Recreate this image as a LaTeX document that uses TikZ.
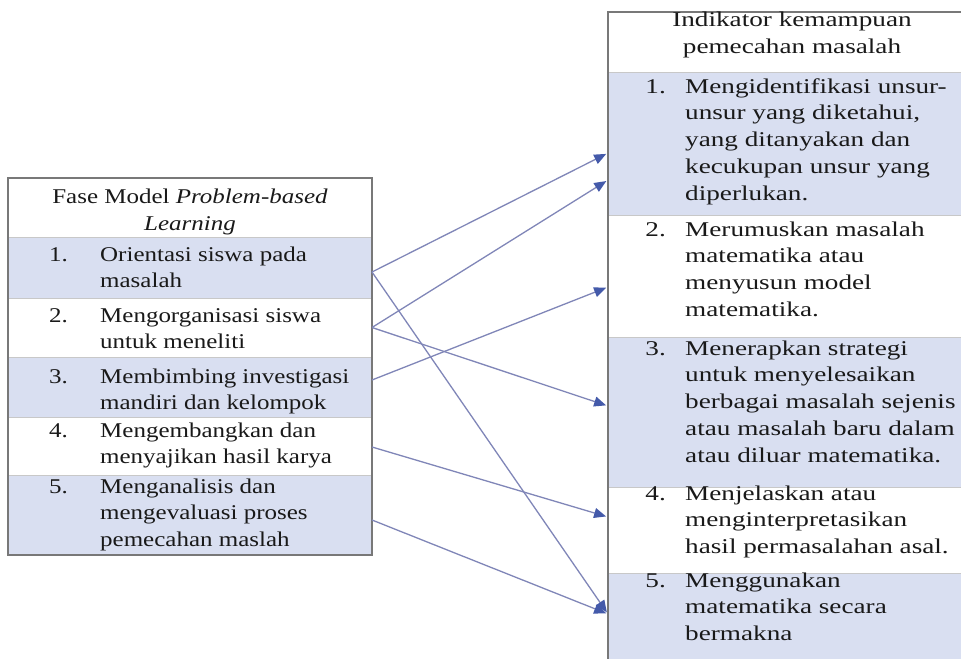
\documentclass[tikz,border=0pt]{standalone}
\usepackage{fontspec}
\setmainfont{Liberation Serif}
\newfontfamily\lfont[FakeStretch=1.19]{Liberation Serif}
\newfontfamily\rfont[FakeStretch=1.295]{Liberation Serif}
\usetikzlibrary{arrows.meta}
\definecolor{rowblue}{RGB}{217,223,241}
\definecolor{outline}{RGB}{120,120,120}
\definecolor{sepline}{RGB}{200,200,200}
\definecolor{arrline}{RGB}{128,134,184}
\definecolor{arrhead}{RGB}{68,90,170}
\definecolor{txt}{RGB}{25,25,25}
\begin{document}
\begin{tikzpicture}[x=1pt,y=-1pt,
  cell/.style={draw=none,inner sep=0pt,outer sep=0pt,anchor=north west},
  shadedcell/.style={cell,fill=rowblue},
  plaincell/.style={cell,fill=white},
  lcell/.style={minimum width=364pt},
  rcell/.style={minimum width=353pt},
  ltxt/.style={inner sep=0pt,anchor=base west,align=left,text=txt,font=\lfont\fontsize{21}{26.7}\selectfont},
  lnum/.style={ltxt,anchor=base east},
  lhead/.style={ltxt,anchor=base,align=center},
  rtxt/.style={inner sep=0pt,anchor=base west,align=left,text=txt,font=\rfont\fontsize{21}{26.8}\selectfont},
  rnum/.style={rtxt,anchor=base east},
  rhead/.style={rtxt,anchor=base,align=center},
  sep/.style={draw=sepline,line width=0.8pt},
  frame/.style={draw=outline,line width=1.6pt},
  conn/.style={draw=arrline,line width=1.3pt,-{Triangle[length=12pt,width=10pt,color=arrhead]}}
]
\useasboundingbox (0,0) rectangle (961,659);
\fill[white] (0,0) rectangle (961,659);

% ---------- left table ----------
\node[plaincell,lcell,minimum height=59pt] (LH) at (8,178) {};
\node[shadedcell,lcell,minimum height=61pt] (L1) at (8,237) {};
\node[plaincell,lcell,minimum height=59pt] (L2) at (8,298) {};
\node[shadedcell,lcell,minimum height=60pt] (L3) at (8,357) {};
\node[plaincell,lcell,minimum height=58pt] (L4) at (8,417) {};
\node[shadedcell,lcell,minimum height=80pt] (L5) at (8,475) {};
\foreach \r in {L1,L2,L3,L4,L5} {\draw[sep] (\r.north west) -- (\r.north east);}
\draw[frame] (LH.north west) rectangle (L5.south east);

% (multi-line nodes: base anchor = baseline of the last line)
\node[lhead] (lh1) at (190,203) {Fase Model \textit{Problem-based}};
\node[lhead] (lh2) at (190,230) {\textit{Learning}};
\node[lnum] (ln1) at (68,261) {1.};
\node[ltxt] (lt1) at (100,287.7) {Orientasi siswa pada\\masalah};
\node[lnum] (ln2) at (68,322) {2.};
\node[ltxt] (lt2) at (100,348.7) {Mengorganisasi siswa\\untuk meneliti};
\node[lnum] (ln3) at (68,383) {3.};
\node[ltxt] (lt3) at (100,409.7) {Membimbing investigasi\\mandiri dan kelompok};
\node[lnum] (ln4) at (68,437) {4.};
\node[ltxt] (lt4) at (100,463.7) {Mengembangkan dan\\menyajikan hasil karya};
\node[lnum] (ln5) at (68,493) {5.};
\node[ltxt] (lt5) at (100,546.4) {Menganalisis dan\\mengevaluasi proses\\pemecahan maslah};

% ---------- right table ----------
\node[plaincell,rcell,minimum height=60pt] (RH) at (608,12) {};
\node[shadedcell,rcell,minimum height=143pt] (R1) at (608,72) {};
\node[plaincell,rcell,minimum height=122pt] (R2) at (608,215) {};
\node[shadedcell,rcell,minimum height=150pt] (R3) at (608,337) {};
\node[plaincell,rcell,minimum height=86pt] (R4) at (608,487) {};
\node[shadedcell,rcell,minimum height=86pt] (R5) at (608,573) {};
\foreach \r in {R1,R2,R3,R4,R5} {\draw[sep] (\r.north west) -- (\r.north east);}
\draw[frame] (RH.north east) -- (RH.north west) -- (R5.south west);

\node[rhead] (rh1) at (792,26) {Indikator kemampuan};
\node[rhead] (rh2) at (792,53) {pemecahan masalah};
\node[rnum] (rn1) at (666,93) {1.};
\node[rtxt] (rt1) at (685,200.2) {Mengidentifikasi unsur-\\unsur yang diketahui,\\yang ditanyakan dan\\kecukupan unsur yang\\diperlukan.};
\node[rnum] (rn2) at (666,236) {2.};
\node[rtxt] (rt2) at (685,316.4) {Merumuskan masalah\\matematika atau\\menyusun model\\matematika.};
\node[rnum] (rn3) at (666,355) {3.};
\node[rtxt] (rt3) at (685,462.2) {Menerapkan strategi\\untuk menyelesaikan\\berbagai masalah sejenis\\atau masalah baru dalam\\atau diluar matematika.};
\node[rnum] (rn4) at (666,500) {4.};
\node[rtxt] (rt4) at (685,553.6) {Menjelaskan atau\\menginterpretasikan\\hasil permasalahan asal.};
\node[rnum] (rn5) at (666,587) {5.};
\node[rtxt] (rt5) at (685,640.6) {Menggunakan\\matematika secara\\bermakna};

% ---------- connectors ----------
\draw[conn,shorten >=2pt] ([yshift=-4.5pt]L1.east) -- ([yshift=-9.5pt]R1.west);
\draw[conn,shorten >=2pt] ([yshift=-4.5pt]L1.east) -- ([yshift=2pt]R5.west);
\draw[conn,shorten >=2pt] (L2.east) -- ([yshift=-36.5pt]R1.west);
\draw[conn,shorten >=2pt] (L2.east) -- ([yshift=6pt]R3.west);
\draw[conn,shorten >=2pt] ([yshift=7pt]L3.east) -- ([yshift=-11pt]R2.west);
\draw[conn,shorten >=2pt] ([yshift=-1pt]L4.east) -- ([yshift=13pt]R4.west);
\draw[conn,shorten >=2pt] ([yshift=-5pt]L5.east) -- ([yshift=2pt]R5.west);
\end{tikzpicture}
\end{document}
